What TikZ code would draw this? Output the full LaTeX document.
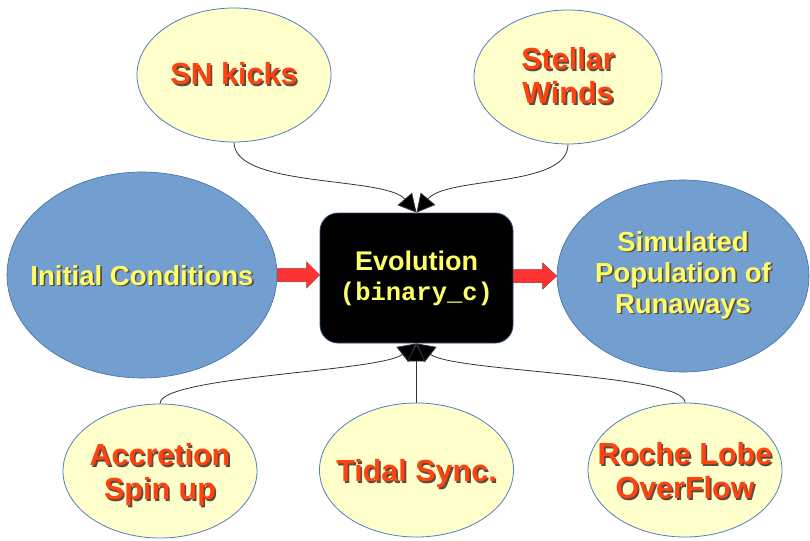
\documentclass[tikz,border=0pt]{standalone}
\usepackage{fontspec}
\setmainfont{Liberation Sans}
\newfontfamily\monof{Liberation Mono}
\usetikzlibrary{shapes.geometric,arrows.meta,calc}
\definecolor{yfill}{HTML}{FFFFCC}
\definecolor{bfill}{HTML}{729FCF}
\definecolor{edgeb}{HTML}{4F7FBF}
\definecolor{otext}{HTML}{FF420E}
\definecolor{ytext}{HTML}{FFFF66}
\definecolor{shad}{HTML}{5A4A40}
\definecolor{redar}{HTML}{FF3333}
\definecolor{redbd}{HTML}{A33030}
\definecolor{conncol}{HTML}{333333}
\newcommand\sh[1]{\leavevmode\rlap{\kern1.6pt\raisebox{-1.6pt}{\textcolor{shad}{#1}}}#1}
\newcommand\ztab[2][4pt]{\makebox[0pt]{\raisebox{-#1}[\height][\depth]{\begin{tabular}{@{}c@{}}#2\end{tabular}}}}
\begin{document}
\begin{tikzpicture}[x=1pt,y=-1pt,
  yell/.style={ellipse, draw=edgeb, line width=0.8pt, fill=yfill, inner sep=0pt,
    text=otext, font=\fontsize{30.5}{34}\selectfont\bfseries,
    minimum width=194pt, minimum height=134pt},
  blueell/.style={ellipse, draw=edgeb!85!black, line width=0.6pt, fill=bfill, inner sep=0pt,
    text=ytext, font=\fontsize{27.5}{31}\selectfont\bfseries},
  evobox/.style={rectangle, rounded corners=18pt, fill=black, draw=edgeb!60!black,
    line width=0.8pt, minimum width=193pt, minimum height=130pt, text=ytext,
    font=\fontsize{27}{30}\selectfont\bfseries, align=center},
  connector/.style={draw=conncol, line width=0.8pt, -{Triangle[length=18pt,width=19pt,fill=black]}},
  bigarrow/.style={fill=redar, draw=redbd, line width=0.5pt}]
\useasboundingbox (0,0) rectangle (810,540);

\node[yell] (sn) at (234,75) {\ztab[3pt]{\sh{SN kicks}}};
\node[yell, minimum width=188pt] (sw) at (568,77) {\ztab[3pt]{\sh{Stellar}\\\sh{Winds}}};
\node[blueell, minimum width=270pt, minimum height=206pt] (ic) at (142,275) {\ztab[4pt]{\sh{Initial Conditions}}};
\node[blueell, minimum width=252pt, minimum height=192pt] (sim) at (683,276) {\ztab[0pt]{\sh{Simulated}\\\sh{Population of}\\\sh{Runaways}}};
\node[evobox] (evo) at (416.5,278) {Evolution\\{\monof\bfseries\fontsize{25.5}{30}\selectfont (binary\_c)}};
\node[yell] (acc) at (160,471) {\ztab[5pt]{\sh{Accretion}\\\sh{Spin up}}};
\node[yell] (tid) at (416.5,470) {\ztab[5pt]{\sh{Tidal Sync.}}};
\node[yell] (roc) at (685,470) {\ztab[5pt]{\sh{Roche Lobe}\\\sh{OverFlow}}};

\path[bigarrow] let \p1=(ic.east), \p2=(evo.west) in
  (\x1,\y1+6.5pt) -- (\x2-13pt,\y1+6.5pt) -- (\x2-13pt,\y1+13pt) -- (\x2,\y1)
  -- (\x2-13pt,\y1-13pt) -- (\x2-13pt,\y1-6.5pt) -- (\x1,\y1-6.5pt) -- cycle;
\path[bigarrow] let \p1=(evo.east), \p2=(sim.west) in
  (\x1,\y2+6.5pt) -- (\x2-14pt,\y2+6.5pt) -- (\x2-14pt,\y2+13pt) -- (\x2,\y2)
  -- (\x2-14pt,\y2-13pt) -- (\x2-14pt,\y2-6.5pt) -- (\x1,\y2-6.5pt) -- cycle;

\draw[connector] (sn.south) .. controls (234,188) and (385,176) .. (evo.north);
\draw[connector] (sw.south) .. controls (568,188) and (447,176) .. (evo.north);
\draw[connector] (acc.north) .. controls (160,376) and (380,372) .. (evo.south);
\draw[connector] (tid.north) -- (evo.south);
\draw[connector] (roc.north) .. controls (685,374) and (453,372) .. (evo.south);
\end{tikzpicture}
\end{document}
